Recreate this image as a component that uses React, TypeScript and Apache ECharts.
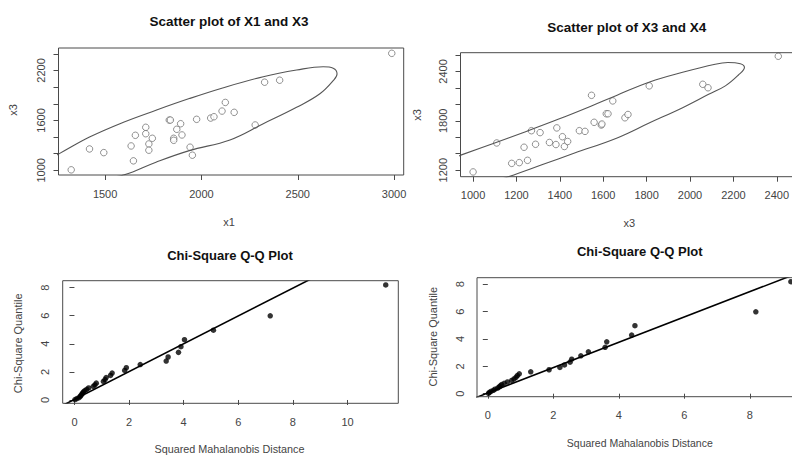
import React, { useEffect, useRef } from "react";
import * as echarts from "echarts";

// ---------- Panel 1: Scatter plot of X1 and X3 ----------
const p1X1 = [1324, 1419, 1493, 1635, 1647, 1657, 1711, 1711, 1727, 1727, 1745, 1833, 1839, 1872, 1892, 1899, 1856, 1856, 1941, 1953, 1975, 2048, 2065, 2107, 2124, 2170, 2279, 2328, 2406, 2988];
const p1X3 = [1006, 1257, 1213, 1293, 1114, 1421, 1517, 1440, 1317, 1242, 1385, 1604, 1604, 1493, 1560, 1425, 1385, 1361, 1278, 1182, 1613, 1628, 1644, 1712, 1816, 1697, 1545, 2059, 2083, 2406];
// ellipse outline (x1, x3)
const p1EllX = [1110, 1150, 1230, 1260, 1419, 1592, 1764, 1937, 2110, 2321, 2494, 2632, 2684, 2704, 2684, 2615, 2494, 2321, 2148, 1937, 1764, 1600, 1491, 1318, 1180, 1110];
const p1EllY = [900, 1060, 1165, 1198, 1400, 1575, 1722, 1862, 1990, 2125, 2205, 2245, 2228, 2158, 2078, 1920, 1757, 1560, 1365, 1237, 1098, 946, 905, 845, 830, 900];
const p1XTicks = [1500, 2000, 2500, 3000];
const p1YTicks = [1000, 1200, 1400, 1600, 1800, 2000, 2200, 2400];
const p1YLabels = [1000, 1600, 2200];

// ---------- Panel 2: Scatter plot of X3 and X4 ----------
const p2X3 = [1000, 1109, 1178, 1213, 1251, 1235, 1269, 1288, 1309, 1352, 1382, 1386, 1412, 1421, 1436, 1490, 1516, 1546, 1558, 1591, 1594, 1614, 1622, 1644, 1700, 1714, 1812, 2059, 2083, 2407];
const p2X4 = [1179, 1531, 1283, 1292, 1320, 1479, 1680, 1515, 1657, 1537, 1512, 1714, 1607, 1488, 1549, 1680, 1672, 2110, 1782, 1749, 1761, 1886, 1886, 2042, 1837, 1877, 2225, 2244, 2202, 2585];
const p2EllX = [940, 1090, 1242, 1392, 1543, 1664, 1814, 1966, 2116, 2175, 2232, 2251, 2222, 2163, 2086, 1966, 1814, 1664, 1468, 1317, 1166, 1000, 880, 810, 810, 870, 940];
const p2EllY = [1380, 1522, 1668, 1818, 1978, 2112, 2272, 2390, 2488, 2508, 2493, 2448, 2354, 2225, 2122, 1960, 1776, 1592, 1408, 1265, 1123, 975, 900, 950, 1100, 1280, 1380];
const p2XTicks = [1000, 1200, 1400, 1600, 1800, 2000, 2200, 2400];
const p2YTicks = [1200, 1400, 1600, 1800, 2000, 2200, 2400, 2600];
const p2YLabels = [1200, 1800, 2400];

// ---------- Panel 3: Chi-Square Q-Q Plot (X1, X3) ----------
const qqQuantile = [0.03, 0.10, 0.17, 0.25, 0.33, 0.41, 0.49, 0.58, 0.67, 0.76, 0.86, 0.97, 1.08, 1.20, 1.32, 1.45, 1.60, 1.75, 1.92, 2.10, 2.30, 2.52, 2.77, 3.06, 3.39, 3.79, 4.29, 4.97, 5.99, 8.19];
const p3Dist = [0.02, 0.09, 0.17, 0.21, 0.24, 0.27, 0.30, 0.33, 0.38, 0.45, 0.52, 0.69, 0.75, 0.80, 1.06, 1.12, 1.16, 1.32, 1.38, 1.84, 1.90, 2.41, 3.36, 3.43, 3.81, 3.90, 4.03, 5.09, 7.17, 11.40];
const p3LineX = [-1, 12];
const p3LineY = [-0.95, 11.92];
const p3XTicks = [0, 2, 4, 6, 8, 10];
const qqYTicks = [0, 2, 4, 6, 8];

// ---------- Panel 4: Chi-Square Q-Q Plot (X3, X4) ----------
const p4Dist = [0.02, 0.05, 0.10, 0.17, 0.22, 0.30, 0.35, 0.38, 0.42, 0.50, 0.60, 0.73, 0.80, 0.86, 0.90, 0.96, 1.31, 1.87, 2.20, 2.34, 2.51, 2.56, 2.84, 3.07, 3.58, 3.63, 4.39, 4.49, 8.18, 9.25];
const p4LineX = [-1, 10];
const p4LineY = [-0.87, 9.31];
const p4XTicks = [0, 2, 4, 6, 8];

const FONT = "'Liberation Sans', Arial, Helvetica, sans-serif";
const BORDER = "#4a4a4a";
const LABEL = "#444";

// plot-box layout (pixels); boxes 2 and 4 run past the right edge of the page
const BOXES = [
  { left: 58.5, top: 48, width: 345.2, height: 127 },
  { left: 460.5, top: 52.7, width: 336, height: 124 },
  { left: 62.7, top: 280.7, width: 335.6, height: 122.6 },
  { left: 477, top: 277.7, width: 326, height: 119 },
];
// visible parts used as grids (clamped to the 792px page)
const GRIDS = [
  { left: 58.5, top: 48, width: 345.2, height: 127 },
  { left: 460.5, top: 52.7, width: 331.5, height: 124 },
  { left: 62.7, top: 280.7, width: 335.6, height: 122.6 },
  { left: 477, top: 277.7, width: 315, height: 119 },
];

const zip = (a: number[], b: number[]) => a.map((v, i) => [v, b[i]]);
const fmt = (v: number) => String(v);

function makeX(grid: number, min: number, max: number, ticks: number[], labels: number[]) {
  return {
    type: "value",
    gridIndex: grid,
    min,
    max,
    axisLine: { show: false },
    splitLine: { show: false },
    axisTick: { show: true, length: 5, lineStyle: { color: BORDER, width: 1 }, customValues: ticks },
    axisLabel: { customValues: labels, formatter: fmt, margin: 13, fontSize: 11, color: LABEL, fontFamily: FONT },
  };
}
function makeY(grid: number, min: number, max: number, ticks: number[], labels: number[]) {
  return {
    type: "value",
    gridIndex: grid,
    min,
    max,
    axisLine: { show: false },
    splitLine: { show: false },
    axisTick: { show: true, length: 5, lineStyle: { color: BORDER, width: 1 }, customValues: ticks },
    axisLabel: { customValues: labels, formatter: fmt, margin: 12, rotate: 90, fontSize: 11, color: LABEL, fontFamily: FONT },
  };
}

function txt(text: string, x: number, y: number, size: number, bold: boolean, rot = 0, color = LABEL) {
  return {
    type: "text",
    x,
    y,
    rotation: rot,
    z: 10,
    style: {
      text,
      textAlign: "center",
      textVerticalAlign: "middle",
      font: `${bold ? "bold " : ""}${size}px ${FONT}`,
      fill: color,
    },
  };
}

export default function App() {
  const ref = useRef<HTMLDivElement>(null);
  useEffect(() => {
    if (!ref.current) return;
    const chart = echarts.init(ref.current, null, { renderer: "svg" });
    const boxRects = BOXES.map((b) => ({
      type: "rect",
      z: 10,
      silent: true,
      shape: { x: b.left, y: b.top, width: b.width, height: b.height },
      style: { fill: "none", stroke: BORDER, lineWidth: 1 },
    }));
    const option: any = {
      animation: false,
      backgroundColor: "#fff",
      grid: GRIDS.map((b) => ({ ...b, containLabel: false })),
      xAxis: [
        makeX(0, 1258, 3050, p1XTicks, p1XTicks),
        makeX(1, 942, 2442.6, p2XTicks, p2XTicks),
        makeX(2, -0.43, 11.86, p3XTicks, p3XTicks),
        makeX(3, -0.33, 9.284, p4XTicks, p4XTicks),
      ],
      yAxis: [
        makeY(0, 944, 2470, p1YTicks, p1YLabels),
        makeY(1, 1121, 2628, p2YTicks, p2YLabels),
        makeY(2, -0.235, 8.49, qqYTicks, qqYTicks),
        makeY(3, -0.22, 8.48, qqYTicks, qqYTicks),
      ],
      series: [
        {
          type: "line", xAxisIndex: 0, yAxisIndex: 0, data: zip(p1EllX, p1EllY), smooth: 0.4, showSymbol: false, clip: true,
          lineStyle: { color: "#555", width: 1.1 }, silent: true,
        },
        {
          type: "scatter", xAxisIndex: 0, yAxisIndex: 0, data: zip(p1X1, p1X3), symbol: "circle", symbolSize: 6.5,
          itemStyle: { color: "#fff", borderColor: "#666", borderWidth: 0.9 },
        },
        {
          type: "line", xAxisIndex: 1, yAxisIndex: 1, data: zip(p2EllX, p2EllY), smooth: 0.4, showSymbol: false, clip: true,
          lineStyle: { color: "#555", width: 1.1 }, silent: true,
        },
        {
          type: "scatter", xAxisIndex: 1, yAxisIndex: 1, data: zip(p2X3, p2X4), symbol: "circle", symbolSize: 6.5,
          itemStyle: { color: "#fff", borderColor: "#666", borderWidth: 0.9 },
        },
        {
          type: "line", xAxisIndex: 2, yAxisIndex: 2, data: zip(p3LineX, p3LineY), showSymbol: false, clip: true,
          lineStyle: { color: "#000", width: 1.6 }, silent: true,
        },
        {
          type: "scatter", xAxisIndex: 2, yAxisIndex: 2, data: zip(p3Dist, qqQuantile), symbol: "circle", symbolSize: 5.5,
          itemStyle: { color: "#000" },
        },
        {
          type: "line", xAxisIndex: 3, yAxisIndex: 3, data: zip(p4LineX, p4LineY), showSymbol: false, clip: true,
          lineStyle: { color: "#000", width: 1.6 }, silent: true,
        },
        {
          type: "scatter", xAxisIndex: 3, yAxisIndex: 3, data: zip(p4Dist, qqQuantile), symbol: "circle", symbolSize: 5.5,
          itemStyle: { color: "#000" },
        },
      ],
      graphic: [
        ...boxRects,
        txt("Scatter plot of X1 and X3", 229, 21.7, 13.5, true, 0, "#111"),
        txt("Scatter plot of X3 and X4", 626.8, 27.3, 13.5, true, 0, "#111"),
        txt("Chi-Square Q-Q Plot", 230, 255, 13, true, 0, "#111"),
        txt("Chi-Square Q-Q Plot", 639.8, 251.7, 13, true, 0, "#111"),
        txt("x1", 229, 221.7, 11, false),
        txt("x3", 13.3, 110, 11, false, Math.PI / 2),
        txt("x3", 629.3, 222.7, 11, false),
        txt("x3", 416.7, 115, 11, false, Math.PI / 2),
        txt("Squared Mahalanobis Distance", 229.5, 448.5, 10.8, false),
        txt("Chi-Square Quantile", 18.3, 343.3, 11, false, Math.PI / 2),
        txt("Squared Mahalanobis Distance", 639.8, 443.3, 10.5, false),
        txt("Chi-Square Quantile", 433.3, 336.7, 11, false, Math.PI / 2),
      ],
    };
    chart.setOption(option);
    return () => chart.dispose();
  }, []);
  return (
    <div
      ref={ref}
      style={{ position: "fixed", left: 0, top: 0, width: 792, height: 455, background: "#fff" }}
    />
  );
}
